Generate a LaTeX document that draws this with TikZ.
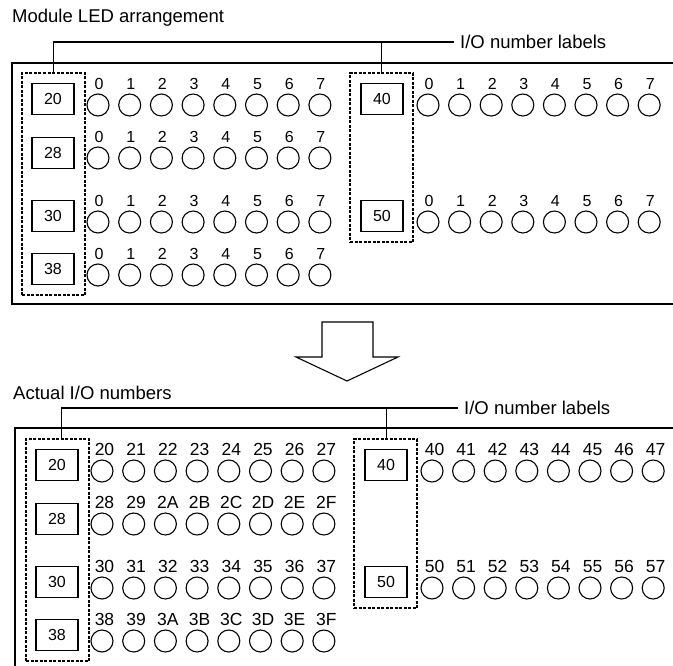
\documentclass[tikz,border=0pt]{standalone}
\usepackage{fontspec}
\setmainfont{Liberation Sans}
\begin{document}
\begin{tikzpicture}[x=1pt,y=-1pt,
  frame/.style={line width=2pt},
  lbox/.style={draw, line width=1.1pt, minimum width=42pt, minimum height=31pt, inner sep=0pt, font=\fontsize{16}{18}\selectfont},
  led/.style={draw, circle, line width=1.1pt, minimum size=22pt, inner sep=0pt},
  num/.style={anchor=base, inner sep=0pt, font=\fontsize{16}{18}\selectfont},
  hexnum/.style={anchor=base, inner sep=0pt, font=\fontsize{17.5}{19}\selectfont},
  grp/.style={draw, line width=1.4pt, dash pattern=on 3pt off 1.5pt, inner sep=0pt},
  title/.style={anchor=west, inner sep=0pt, font=\fontsize{18.5}{20}\selectfont},
  lead/.style={line width=1.1pt}]
\useasboundingbox (0,0) rectangle (673,665);

% ---------- top section ----------
\node[title] (t1) at (12,17.5) {Module LED arrangement};
\draw[frame] (673,63) -- (12,63) -- (12,304) -- (673,304);
\node[grp, minimum width=63pt, minimum height=222pt] (gL1) at (53.5,184) {};
\node[grp, minimum width=63pt, minimum height=169pt] (gR1) at (381.5,157.5) {};
\node[title] (io1) at (460,42) {I/O number labels};
\draw[lead] (gL1.north) |- ([xshift=-6pt]io1.west);
\draw[lead] (gR1.north) -- (gR1.north |- io1.west);
\node[lbox] (a20) at (53,99) {20};
\node[lbox] (a28) at (53,153) {28};
\node[lbox] (a30) at (53,216) {30};
\node[lbox] (a38) at (53,269) {38};
\node[lbox] (a40) at (382,99) {40};
\node[lbox] (a50) at (382,216) {50};
\foreach \y/\rn in {105/a,158/b,222/c,275/d}{
  \foreach \t [count=\i from 0] in {0,1,2,3,4,5,6,7}{
    \node[led] (la\rn\i) at ({98+31.7*\i},\y) {};
    \node[num] (na\rn\i) at ({99+31.7*\i},\y-16) {\t};
  }
}
\foreach \y/\rn in {105/a,222/c}{
  \foreach \t [count=\i from 0] in {0,1,2,3,4,5,6,7}{
    \node[led] (ra\rn\i) at ({428+31.6*\i},\y) {};
    \node[num] (ma\rn\i) at ({429+31.6*\i},\y-16) {\t};
  }
}

% ---------- arrow ----------
\draw[line width=1.1pt] (322,322) -- (373,322) -- (373,357) -- (398,357) -- (347,381) -- (296,357) -- (322,357) -- cycle;

% ---------- bottom section ----------
\node[title] (t2) at (13,392.5) {Actual I/O numbers};
\draw[frame] (673,428) -- (15,428) -- (15,670);
\begin{scope}[shift={(4,366)}]
\node[grp, minimum width=63pt, minimum height=222pt] (gL2) at (53.5,184) {};
\node[grp, minimum width=63pt, minimum height=169pt] (gR2) at (381.5,157.5) {};
\node[title] (io2) at (460,42) {I/O number labels};
\draw[lead] ([xshift=4pt]gL2.north) |- ([xshift=-6pt]io2.west);
\draw[lead] ([xshift=1pt]gR2.north) -- ([xshift=1pt]gR2.north |- io2.west);
\node[lbox] (b20) at (53,99) {20};
\node[lbox] (b28) at (53,153) {28};
\node[lbox] (b30) at (53,216) {30};
\node[lbox] (b38) at (53,269) {38};
\node[lbox] (b40) at (382,99) {40};
\node[lbox] (b50) at (382,216) {50};
\foreach \y/\rn/\lst in {105/a/{20,21,22,23,24,25,26,27},158/b/{28,29,2A,2B,2C,2D,2E,2F},222/c/{30,31,32,33,34,35,36,37},275/d/{38,39,3A,3B,3C,3D,3E,3F}}{
  \foreach \t [count=\i from 0] in \lst{
    \node[led] (lb\rn\i) at ({98+31.7*\i},\y) {};
    \node[hexnum] (nb\rn\i) at ({100.5+31.7*\i},\y-16) {\t};
  }
}
\foreach \y/\rn/\lst in {105/a/{40,41,42,43,44,45,46,47},222/c/{50,51,52,53,54,55,56,57}}{
  \foreach \t [count=\i from 0] in \lst{
    \node[led] (rb\rn\i) at ({428+31.6*\i},\y) {};
    \node[hexnum] (mb\rn\i) at ({430.5+31.6*\i},\y-16) {\t};
  }
}
\end{scope}
\end{tikzpicture}
\end{document}
